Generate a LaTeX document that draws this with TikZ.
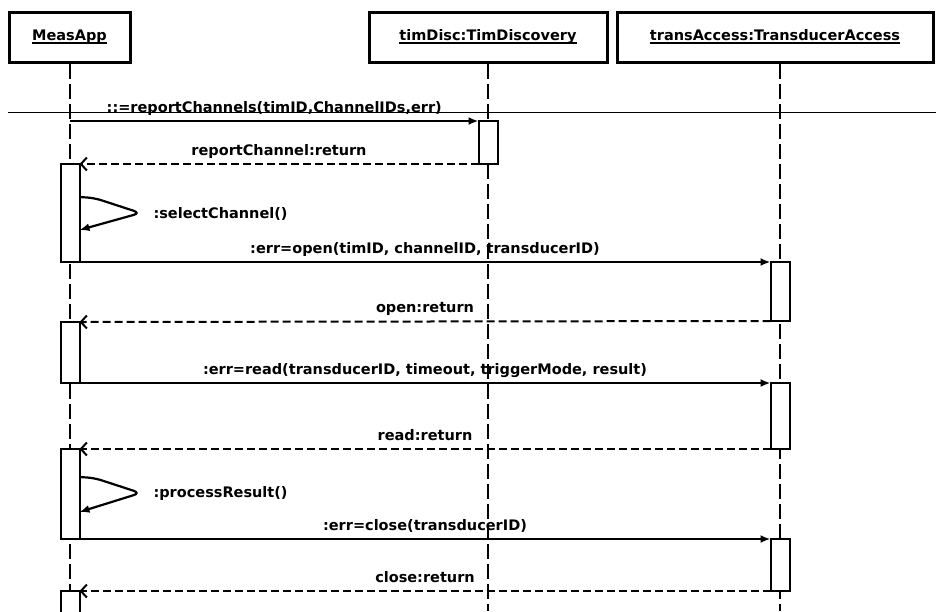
\documentclass[tikz,border=0pt]{standalone}
\usepackage{fontspec}
\setmainfont{DejaVu Sans}
\usetikzlibrary{arrows.meta,positioning}
\newcommand{\objtitle}[1]{\setbox0\hbox{#1}\rlap{\rule[-3.5pt]{\wd0}{1.8pt}}\box0}

\begin{document}
\begin{tikzpicture}[x=1pt,y=-1pt,font=\fontsize{14.5}{17}\selectfont\bfseries,
  obj/.style={draw,line width=3pt,minimum height=50pt,inner sep=0pt,outer sep=0pt},
  life/.style={line width=2pt,dash pattern=on 15pt off 5pt},
  act/.style={draw,fill=white,line width=2pt,minimum width=19pt,inner sep=0pt,outer sep=0pt,anchor=north},
  msg/.style={line width=2.2pt,-{Latex[length=10pt,width=8pt]}},
  ret/.style={line width=2pt,dash pattern=on 8pt off 4pt,-{Straight Barb[length=6pt,width=13pt]}},
  lbl/.style={anchor=base,yshift=9pt,inner sep=0pt}]
\useasboundingbox (0,0) rectangle (936,611);
\node[obj,minimum width=121pt](measapp) at (69.5,37) {\objtitle{MeasApp}};
\node[obj,minimum width=238pt](timdisc) at (488,37) {\objtitle{timDisc:TimDiscovery}};
\node[obj,minimum width=316pt](transacc) at (775,37) {\objtitle{transAccess:TransducerAccess}};
\coordinate(ma) at (70,64);
\coordinate(td) at (488,64);
\coordinate(ta) at (780,64);
\coordinate[below=547pt of ma](maend);
\coordinate[below=547pt of td](tdend);
\coordinate[below=547pt of ta](taend);
\draw[life](ma)--(maend);
\draw[life](td)--(tdend);
\draw[life](ta)--(taend);
\coordinate(sepl) at (8,112);
\coordinate(sepr) at (936,112);
\draw[line width=0.8pt](sepl)--(sepr);

\node[act,minimum height=43pt](td1) at (488,121) {};
\node[act,minimum height=98pt](ma1) at (70,164) {};
\node[act,minimum height=59pt](ta1) at (780,262) {};
\node[act,minimum height=61pt](ma2) at (70,322) {};
\node[act,minimum height=66pt](ta2) at (780,383) {};
\node[act,minimum height=90pt](ma3) at (70,449) {};
\node[act,minimum height=52pt](ta3) at (780,539) {};
\node[act,minimum height=25pt](ma4) at (70,591) {};

\draw[msg](ma |- td1.north)--node[lbl]{::=reportChannels(timID,ChannelIDs,err)}(td1.north west);
\draw[ret](td1.south west)--node[lbl]{reportChannel:return}(ma1.north east);
\draw[msg,rounded corners=7pt]([yshift=-33pt]ma1.north east)--++(15,1)--++(46,15)--([yshift=-66pt]ma1.north east);
\node[anchor=west](selch) at (150,214) {:selectChannel()};
\draw[msg](ma1.south east)--node[lbl]{:err=open(timID, channelID, transducerID)}(ta1.north west);
\draw[ret](ta1.south west)--node[lbl]{open:return}(ma2.north east);
\draw[msg](ma2.south east)--node[lbl]{:err=read(transducerID, timeout, triggerMode, result)}(ta2.north west);
\draw[ret](ta2.south west)--node[lbl]{read:return}(ma3.north east);
\draw[msg,rounded corners=7pt]([yshift=-28pt]ma3.north east)--++(15,1)--++(46,15)--([yshift=-63pt]ma3.north east);
\node[anchor=west](procres) at (150,493) {:processResult()};
\draw[msg](ma3.south east)--node[lbl]{:err=close(transducerID)}(ta3.north west);
\draw[ret](ta3.south west)--node[lbl]{close:return}(ma4.north east);
\end{tikzpicture}
\end{document}
